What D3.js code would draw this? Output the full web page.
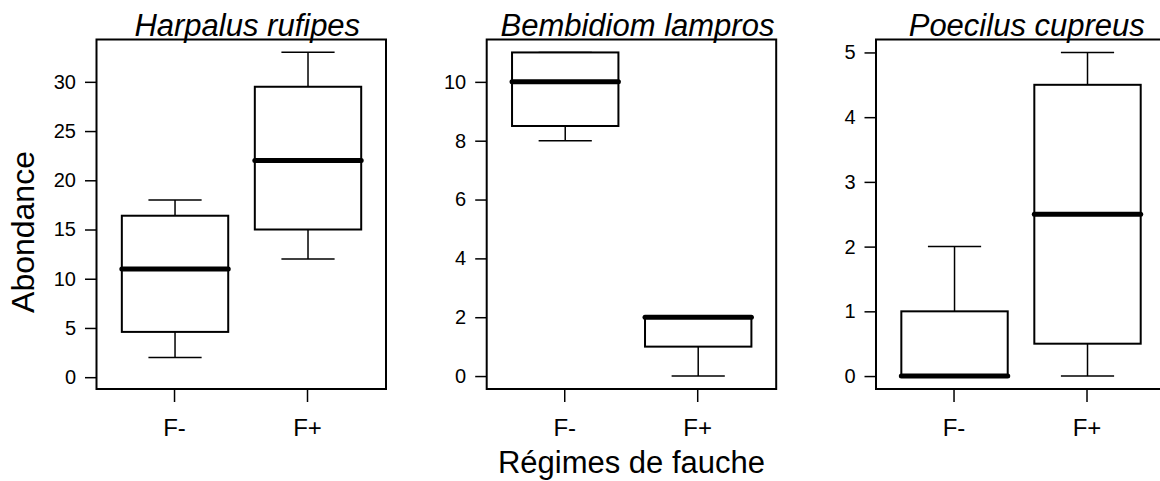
<!DOCTYPE html>
<html>
<head>
<meta charset="utf-8">
<script src="https://cdnjs.cloudflare.com/ajax/libs/d3/7.8.5/d3.min.js"></script>
<style>
    body { margin: 0; background: #fff; }
    svg { display: block; font-family: "Liberation Sans", Arial, sans-serif; }
</style>
</head>
<body>
<svg id="chart" width="1160" height="481"></svg>
<script>
// species shown in each panel
const species = ["Harpalus rufipes", "Bembidiom lampros", "Poecilus cupreus"];
const groups = ["F-", "F+"];

// five number summaries [min, q1, median, q3, max] for F- and F+
const harpalusStats = [[2, 4.6, 11, 16.4, 18], [12, 15, 22, 29.5, 33]];
const bembidionStats = [[8, 8.5, 10, 11, 11], [0, 1, 2, 2, 2]];
const poecilusStats = [[0, 0, 0, 1, 2], [0, 0.5, 2.5, 4.5, 5]];

// y ticks and y ranges for each panel
const harpalusTicks = [0, 5, 10, 15, 20, 25, 30];
const bembidionTicks = [0, 2, 4, 6, 8, 10];
const poecilusTicks = [0, 1, 2, 3, 4, 5];
const yLimits = [[-1.2, 34.3], [-0.44, 11.44], [-0.2, 5.2]];

const xLabel = "Régimes de fauche";
const yLabel = "Abondance";

let panels = [
    {name: species[0], stats: harpalusStats, ticks: harpalusTicks, ylim: yLimits[0]},
    {name: species[1], stats: bembidionStats, ticks: bembidionTicks, ylim: yLimits[1]},
    {name: species[2], stats: poecilusStats, ticks: poecilusTicks, ylim: yLimits[2]}
];

let svg = d3.select("#chart");

let plotW = 289.5, plotH = 349.5, plotTop = 39.5;
let lefts = [96.5, 486.7, 876];

panels.forEach(function(p, i) {
    let g = svg.append("g")
        .attr("transform", "translate(" + lefts[i] + "," + plotTop + ")");

    let x = d3.scaleLinear().domain([0.417, 2.594]).range([0, plotW]);
    let y = d3.scaleLinear().domain(p.ylim).range([plotH, 0]);
    let bw = x(1.4) - x(1);   // half box width

    // y axis
    let yAxis = g.append("g")
        .call(d3.axisLeft(y).tickValues(p.ticks).tickSize(11.5).tickPadding(9).tickFormat(d3.format("d")));
    yAxis.select(".domain").remove();
    yAxis.selectAll("line").attr("stroke", "#000").attr("stroke-width", 1.5);
    yAxis.selectAll("text").attr("font-size", 20).attr("fill", "#000")
        .attr("font-family", "Liberation Sans, Arial, sans-serif");

    // x axis
    let xAxis = g.append("g")
        .attr("transform", "translate(0," + plotH + ")")
        .call(d3.axisBottom(x).tickValues([1, 2]).tickSize(13).tickPadding(17)
            .tickFormat(function(d) { return groups[d - 1]; }));
    xAxis.select(".domain").remove();
    xAxis.selectAll("line").attr("stroke", "#000").attr("stroke-width", 1.5);
    xAxis.selectAll("text").attr("font-size", 24).attr("fill", "#000")
        .attr("font-family", "Liberation Sans, Arial, sans-serif");

    // boxes
    let boxes = g.selectAll("g.box")
        .data(p.stats)
        .enter().append("g")
        .attr("class", "box")
        .attr("transform", function(d, j) { return "translate(" + (x(j + 1) + 1) + ",0)"; });

    // whiskers
    boxes.append("line")
        .attr("x1", 0).attr("x2", 0)
        .attr("y1", function(d) { return y(d[0]); })
        .attr("y2", function(d) { return y(d[1]); })
        .attr("stroke", "#000").attr("stroke-width", 1.5);
    boxes.append("line")
        .attr("x1", 0).attr("x2", 0)
        .attr("y1", function(d) { return y(d[3]); })
        .attr("y2", function(d) { return y(d[4]); })
        .attr("stroke", "#000").attr("stroke-width", 1.5);
    boxes.selectAll("line.cap")
        .data(function(d) { return [d[0], d[4]]; })
        .enter().append("line")
        .attr("class", "cap")
        .attr("x1", -bw / 2).attr("x2", bw / 2)
        .attr("y1", function(v) { return y(v); })
        .attr("y2", function(v) { return y(v); })
        .attr("stroke", "#000").attr("stroke-width", 1.5);

    boxes.append("rect")
        .attr("x", -bw)
        .attr("width", 2 * bw)
        .attr("y", function(d) { return y(d[3]); })
        .attr("height", function(d) { return y(d[1]) - y(d[3]); })
        .attr("fill", "#fff")
        .attr("stroke", "#000").attr("stroke-width", 2);

    boxes.append("line")
        .attr("x1", -bw).attr("x2", bw)
        .attr("y1", function(d) { return y(d[2]); })
        .attr("y2", function(d) { return y(d[2]); })
        .attr("stroke", "#000").attr("stroke-width", 5)
        .attr("stroke-linecap", "round");

    // frame
    g.append("rect")
        .attr("width", plotW).attr("height", plotH)
        .attr("fill", "none")
        .attr("stroke", "#000").attr("stroke-width", 2);

    // title
    g.append("text")
        .attr("x", plotW / 2 + 6)
        .attr("y", -3.5)
        .attr("text-anchor", "middle")
        .attr("font-size", 31)
        .attr("font-style", "italic")
        .text(p.name);
});

svg.append("text")
    .attr("transform", "translate(34,232) rotate(-90)")
    .attr("text-anchor", "middle")
    .attr("font-size", 32)
    .text(yLabel);

svg.append("text")
    .attr("x", lefts[1] + plotW / 2)
    .attr("y", 473)
    .attr("text-anchor", "middle")
    .attr("font-size", 31)
    .text(xLabel);
</script>
</body>
</html>
